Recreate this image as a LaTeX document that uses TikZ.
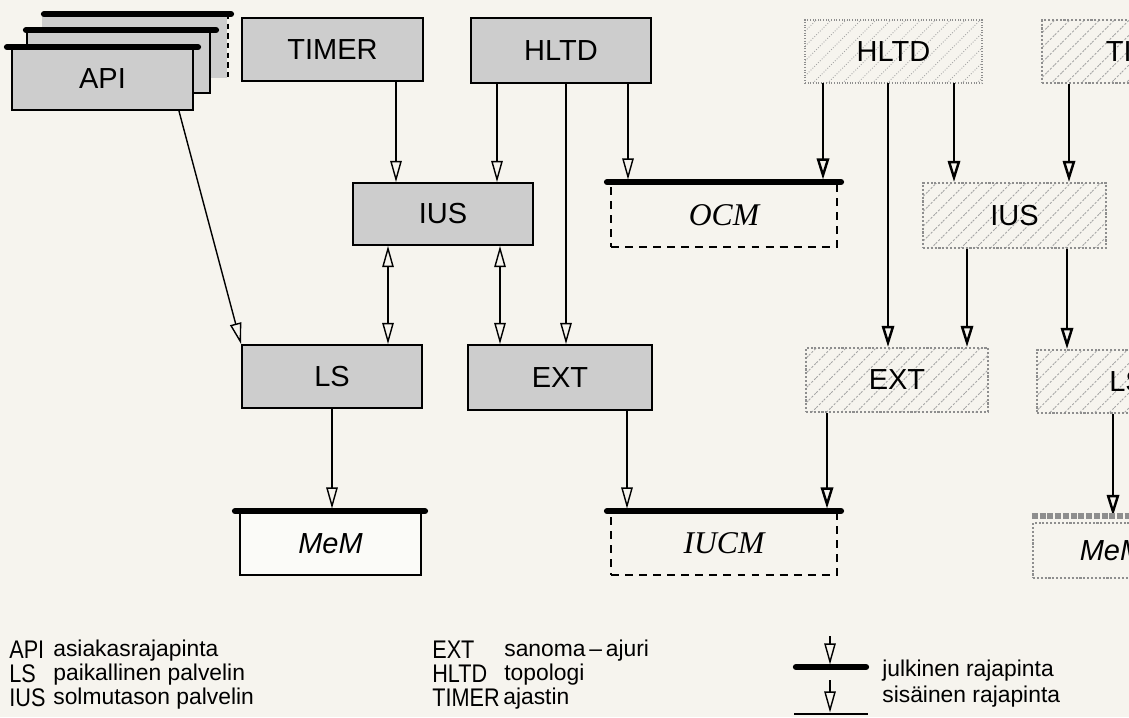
\documentclass[tikz,border=0pt]{standalone}
\usepackage{fontspec}
\setmainfont{Liberation Sans}
\newfontfamily\timesfont{Liberation Serif}
\usetikzlibrary{arrows.meta, patterns.meta}
\definecolor{paper}{HTML}{F6F4EE}
\definecolor{dotfill}{HTML}{CDCDCD}
\definecolor{hatch}{HTML}{8E8E8E}
\newcommand{\keytxt}[1]{\scalebox{0.85}[1]{#1}}

\begin{document}
\begin{tikzpicture}[x=0.02cm, y=-0.02cm,
    box/.style={draw, line width=1.1pt, fill=dotfill, minimum width=3.6cm, minimum height=1.26cm, inner sep=0pt, font=\fontsize{16.5}{18}\selectfont},
    hbox/.style={draw=hatch, densely dotted, line width=1.2pt, pattern={Lines[angle=45, distance=6pt, line width=0.5pt]}, pattern color=hatch!80, minimum width=3.6cm, minimum height=1.26cm, inner sep=0pt, font=\fontsize{16.5}{18}\selectfont},
    membox/.style={draw, line width=1.1pt, fill=white!60!paper, minimum width=3.62cm, minimum height=1.26cm, inner sep=0pt, font=\fontsize{16.5}{18}\selectfont\itshape},
    cmbox/.style={draw, line width=1.1pt, dash pattern=on 4.5pt off 3.5pt, minimum width=4.52cm, minimum height=1.26cm, inner sep=0pt, font=\fontsize{18}{20}\selectfont\timesfont\itshape},
    bar/.style={line width=3.6pt, line cap=round},
    arr/.style={line width=0.8pt, -{Triangle[open, length=12pt, width=6.5pt]}},
    darr/.style={line width=0.8pt, {Triangle[open, length=12pt, width=6.5pt]}-{Triangle[open, length=12pt, width=6.5pt]}},
    harr/.style={line width=1.4pt, -{Triangle[open, length=12pt, width=7pt]}},
    key/.style={anchor=west, inner sep=0pt, font=\fontsize{14.5}{16}\selectfont},
    desc/.style={anchor=west, inner sep=0pt, font=\fontsize{13}{15}\selectfont},
]

% Paper
\clip (0,0) rectangle (1129,717);
\fill[paper] (0,0) rectangle (1129,717);

% API stack
\node[box, draw=none, minimum width=3.7cm] (api3) at (134.5,46.5) {};
\draw[line width=1.3pt, dash pattern=on 3pt off 2.5pt] (api3.north east) -- (api3.south east);
\draw[bar] ([xshift=0.06cm]api3.north west) -- ([xshift=0.06cm]api3.north east);
\node[box, minimum width=3.66cm, minimum height=1.24cm] (api2) at (118.5,62) {};
\draw[bar] (api2.north west) -- ([xshift=0.1cm]api2.north east);
\node[box, minimum width=3.62cm, minimum height=1.24cm] (api) at (102.5,79) {API};
\draw[bar] ([xshift=-0.08cm]api.north west) -- ([xshift=0.08cm]api.north east);

% Left group
\node[box, minimum width=3.62cm] (timer) at (332.5,49.5) {TIMER};
\node[box, minimum width=3.6cm, minimum height=1.3cm] (hltd) at (561,50.5) {HLTD};
\node[box, minimum height=1.24cm] (ius) at (443,214) {IUS};
\node[box] (ls) at (332,376.5) {LS};
\node[box, minimum width=3.68cm, minimum height=1.3cm] (ext) at (560,377.5) {EXT};
\node[membox] (mem) at (330.5,543.5) {MeM};
\node[cmbox, minimum height=1.28cm] (ocm) at (724,215) {OCM};
\node[cmbox] (iucm) at (724,543.5) {IUCM};

% Right group (cut off)
\node[hbox, minimum width=3.54cm] (hltdB) at (893.5,51.5) {HLTD};
\node[hbox, minimum width=4.36cm] (timerB) at (1151,51.5) {TIMER};
\node[hbox, minimum width=3.66cm, minimum height=1.3cm] (iusB) at (1014.5,215.5) {IUS};
\node[hbox, minimum width=3.64cm, minimum height=1.28cm] (extB) at (897,380) {EXT};
\node[hbox] (lsB) at (1127,381.5) {LS};
\node[hbox, font=\fontsize{16.5}{18}\selectfont\itshape, pattern=none, minimum width=3.16cm, minimum height=1.1cm] (memB) at (1112,550.5) {MeM};

% Connector columns
\coordinate (c1) at (396,0);
\coordinate (c2) at (497,0);
\coordinate (c3) at (566,0);
\coordinate (c4) at (628,0);
\coordinate (c5) at (388,0);
\coordinate (c6) at (500,0);
\coordinate (c7) at (627,0);
\coordinate (d1) at (823,0);
\coordinate (d2) at (888,0);
\coordinate (d3) at (954,0);
\coordinate (d4) at (1069,0);
\coordinate (d5) at (967,0);
\coordinate (d6) at (1067,0);
\coordinate (d7) at (827,0);
\coordinate (d8) at (1113,0);

% Left connectors
\draw[arr] (timer.south -| c1) -- (ius.north -| c1);
\draw[arr] (hltd.south -| c2) -- (ius.north -| c2);
\draw[arr] (hltd.south -| c3) -- (ext.north -| c3);
\draw[arr] (hltd.south -| c4) -- ([yshift=0.05cm]ocm.north -| c4);
\draw[darr] (ius.south -| c5) -- (ls.north -| c5);
\draw[darr] (ius.south -| c6) -- (ext.north -| c6);
\draw[arr] ([xshift=-0.3cm]api.south east) -- (ls.north west);
\draw[arr] (ls.south) -- ([yshift=0.05cm]ls.south |- mem.north);
\draw[arr] (ext.south -| c7) -- ([yshift=0.05cm]iucm.north -| c7);

% Right connectors
\draw[harr] (hltdB.south -| d1) -- ([yshift=0.05cm]ocm.north -| d1);
\draw[harr] (hltdB.south -| d2) -- (extB.north -| d2);
\draw[harr] (hltdB.south -| d3) -- (iusB.north -| d3);
\draw[harr] (timerB.south -| d4) -- (iusB.north -| d4);
\draw[harr] (iusB.south -| d5) -- (extB.north -| d5);
\draw[harr] (iusB.south -| d6) -- (lsB.north -| d6);
\draw[harr] (extB.south -| d7) -- ([yshift=0.05cm]iucm.north -| d7);
\draw[harr] (lsB.south -| d8) -- ([yshift=0.12cm]memB.north -| d8);

% Interface bars
\draw[bar] ([xshift=-0.08cm]mem.north west) -- ([xshift=0.06cm]mem.north east);
\draw[bar] ([xshift=-0.06cm]ocm.north west) -- ([xshift=0.06cm]ocm.north east);
\draw[bar] ([xshift=-0.06cm]iucm.north west) -- ([xshift=0.06cm]iucm.north east);
\draw[line width=3.4pt, hatch, densely dotted] ([yshift=0.11cm]memB.north west) -- ([yshift=0.11cm]memB.north east);

% Legend
\node[key] (kapi) at (9,650) {\keytxt{API}};
\node[desc] (dapi) at (53,651) {asiakasrajapinta};
\node[key] (kls) at (9,674) {\keytxt{LS}};
\node[desc] (dls) at (53,675) {paikallinen palvelin};
\node[key] (kius) at (9,698) {\keytxt{IUS}};
\node[desc] (dius) at (53,699) {solmutason palvelin};
\node[key] (kext) at (432,650) {\keytxt{EXT}};
\node[desc] (dext) at (504,651) {sanoma\,--\,ajuri};
\node[key] (khltd) at (432,674) {\keytxt{HLTD}};
\node[desc] (dhltd) at (504,675) {topologi};
\node[key] (ktimer) at (432,698) {\keytxt{TIMER}};
\node[desc] (dtimer) at (503,699) {ajastin};

\coordinate (pubtop) at (830,636);
\coordinate (publ) at (796,667);
\coordinate (pubr) at (866,667);
\draw[arr] (pubtop) -- ([yshift=0.05cm]pubtop |- publ);
\draw[bar] (publ) -- (pubr);
\coordinate (privtop) at (830,680);
\coordinate (privl) at (794,714);
\coordinate (privr) at (868,714);
\draw[arr] (privtop) -- ([yshift=0.03cm]privtop |- privl);
\draw[line width=1.6pt] (privl) -- (privr);
\node[desc] (lpub) at (882,671) {julkinen rajapinta};
\node[desc] (lpriv) at (882,697) {sisäinen rajapinta};

\end{tikzpicture}
\end{document}
